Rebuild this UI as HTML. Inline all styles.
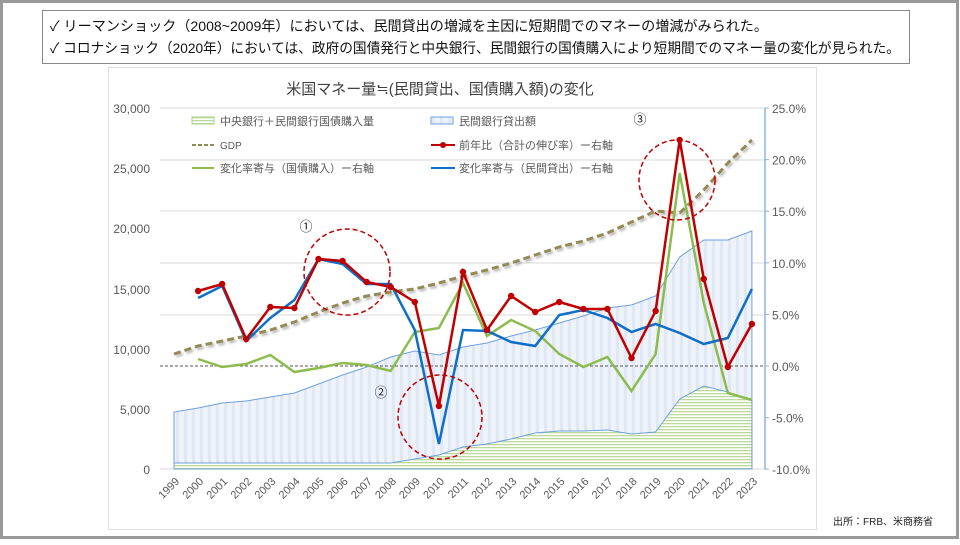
<!DOCTYPE html>
<html><head><meta charset="utf-8"><style>
body{margin:0;width:960px;height:540px;overflow:hidden;background:#fff;font-family:"Liberation Sans","Noto Sans CJK JP",sans-serif}
</style></head><body>
<svg id="s" width="960" height="540" xmlns="http://www.w3.org/2000/svg" font-family="Liberation Sans, Noto Sans CJK JP, sans-serif">
<defs>
<pattern id="vs" width="8" height="4" patternUnits="userSpaceOnUse"><rect width="8" height="4" fill="#eef3fa"/><rect width="3" height="4" fill="#dfe8f4"/></pattern>
<pattern id="hs" width="4" height="3" patternUnits="userSpaceOnUse"><rect width="4" height="3" fill="#fff"/><rect width="4" height="1.3" fill="#bcd89a"/></pattern>
<filter id="sh"><feDropShadow dx="2" dy="2" stdDeviation="1.2" flood-color="#000" flood-opacity="0.3"/></filter>
</defs>
<rect x="1.5" y="1.5" width="956" height="536" fill="#fff" stroke="#999" stroke-width="3"/>
<rect x="42.5" y="10.5" width="867" height="53" fill="#fff" stroke="#888"/>
<text x="50" y="31" font-size="14" fill="#111" textLength="718" lengthAdjust="spacingAndGlyphs">✓ リーマンショック（2008~2009年）においては、民間貸出の増減を主因に短期間でのマネーの増減がみられた。</text>
<text x="50" y="53" font-size="14" fill="#111" textLength="850" lengthAdjust="spacingAndGlyphs">✓ コロナショック（2020年）においては、政府の国債発行と中央銀行、民間銀行の国債購入により短期間でのマネー量の変化が見られた。</text>
<rect x="108.5" y="67.5" width="708" height="462" fill="#fff" stroke="#e0e0e0"/>
<text x="440" y="94" font-size="15" text-anchor="middle" fill="#404040">米国マネー量≒(民間貸出、国債購入額)の変化</text>
<g id="g"></g>
<text x="833" y="525" font-size="10" fill="#222">出所：FRB、米商務省</text>
</svg>
<script>
const g=document.getElementById('g');let h='';
const X=i=>174+i*24.08;
const pts=a=>a.map((y,i)=>y==null?'':X(i).toFixed(1)+','+y).filter(s=>s).join(' ');
[108,160,211,263,315,366,469].forEach(y=>{if(y!=366)h+=`<line x1="160" x2="765" y1="${y}" y2="${y}" stroke="#d9d9d9"/>`});
const L=['30,000','25,000','20,000','15,000','10,000','5,000','0'],Ly=[108,168,228,289,349,409,469];
L.forEach((t,i)=>h+=`<text x="150" y="${Ly[i]+5}" font-size="12" fill="#595959" text-anchor="end">${t}</text>`);
const R=['25.0%','20.0%','15.0%','10.0%','5.0%','0.0%','-5.0%','-10.0%'];
R.forEach((t,i)=>{let y=108+i*51.6;h+=`<text x="772" y="${y+5}" font-size="12" fill="#595959">${t}</text><line x1="765" x2="769" y1="${y}" y2="${y}" stroke="#8db3e2"/>`});
const blue=[412,408,403,401,397,393,384,375,367,357,351,355,347,343,336,330,323,316,308,305,296,257,240,240,231];
const grn=[463,463,463,463,463,463,463,463,463,463,459,455,447,444,439,433,431,431,430,434,432,399,386,392,400];
h+=`<polygon points="${X(0)},469 ${pts(blue)} ${X(24)},469" fill="url(#vs)" stroke="#6fa0dc" stroke-width="1"/>`;
h+=`<polygon points="${X(0)},469 ${pts(grn)} ${X(24)},469" fill="url(#hs)" stroke="#6fa0dc" stroke-width="1"/>`;
h+=`<line x1="160" x2="765" y1="366" y2="366" stroke="#555" stroke-dasharray="3,2"/>`;
h+=`<line x1="765" x2="765" y1="108" y2="469" stroke="#8db3e2" stroke-width="1.5"/>`;
const gdp=[354,346,341,336,330,322,312,303,296,292,289,283,276,270,263,255,247,241,233,222,211,213,190,163,140];
h+=`<polyline points="${pts(gdp)}" fill="none" stroke="#948a54" stroke-width="3" stroke-dasharray="7,4" filter="url(#sh)"/>`;
const gl=[null,359,367,364,355,372,368,363,365,371,332,328,283,336,320,331,354,367,357,391,354,173,303,393,400];
h+=`<polyline points="${pts(gl)}" fill="none" stroke="#8cbb4e" stroke-width="2.5"/>`;
const bl=[null,298,286,341,318,300,259,264,284,284,330,444,330,331,342,346,315,310,318,332,324,333,344,338,289];
h+=`<polyline points="${pts(bl)}" fill="none" stroke="#0f6fc6" stroke-width="2.5"/>`;
const rd=[null,291,284,339,307,308,259,261,282,287,302,406,272,330,296,312,302,309,309,358,311,140,279,367,324];
h+=`<polyline points="${pts(rd)}" fill="none" stroke="#c00000" stroke-width="2.5"/>`;
rd.forEach((y,i)=>{if(y!=null)h+=`<circle cx="${X(i)}" cy="${y}" r="3.2" fill="#c00000"/>`});
[[347,272,43,43],[440,417,42,42],[677,180,38,40]].forEach(c=>h+=`<ellipse cx="${c[0]}" cy="${c[1]}" rx="${c[2]}" ry="${c[3]}" fill="none" stroke="#c00000" stroke-width="1.5" stroke-dasharray="5,3"/>`);
h+=`<text x="306" y="231" font-size="13" text-anchor="middle" fill="#222">①</text><text x="381" y="397" font-size="13" text-anchor="middle" fill="#222">②</text><text x="640" y="124" font-size="13" text-anchor="middle" fill="#222">③</text>`;
h+=`<rect x="192" y="117" width="22" height="7" fill="url(#hs)" stroke="#a9d08e"/><text x="220" y="125" font-size="11" fill="#595959">中央銀行＋民間銀行国債購入量</text>`;
h+=`<rect x="431" y="117" width="22" height="7" fill="url(#vs)" stroke="#6fa0dc"/><text x="459" y="125" font-size="11" fill="#595959">民間銀行貸出額</text>`;
h+=`<line x1="192" x2="214" y1="145" y2="145" stroke="#948a54" stroke-width="2" stroke-dasharray="4,2"/><text x="220" y="149" font-size="10" fill="#595959">GDP</text>`;
h+=`<line x1="431" x2="455" y1="145" y2="145" stroke="#c00000" stroke-width="2"/><circle cx="443" cy="145" r="3" fill="#c00000"/><text x="459" y="149" font-size="11" fill="#595959">前年比（合計の伸び率）ー右軸</text>`;
h+=`<line x1="192" x2="214" y1="168" y2="168" stroke="#8cbb4e" stroke-width="2"/><text x="220" y="172" font-size="11" fill="#595959">変化率寄与（国債購入）ー右軸</text>`;
h+=`<line x1="431" x2="455" y1="168" y2="168" stroke="#0f6fc6" stroke-width="2"/><text x="459" y="172" font-size="11" fill="#595959">変化率寄与（民間貸出）ー右軸</text>`;
for(let i=0;i<25;i++){const x=X(i)+4,y=480;h+=`<text transform="translate(${x},${y}) rotate(-45)" font-size="11" fill="#595959" text-anchor="end" dominant-baseline="middle">${1999+i}</text>`}
g.innerHTML=h;
</script>
</body></html>
